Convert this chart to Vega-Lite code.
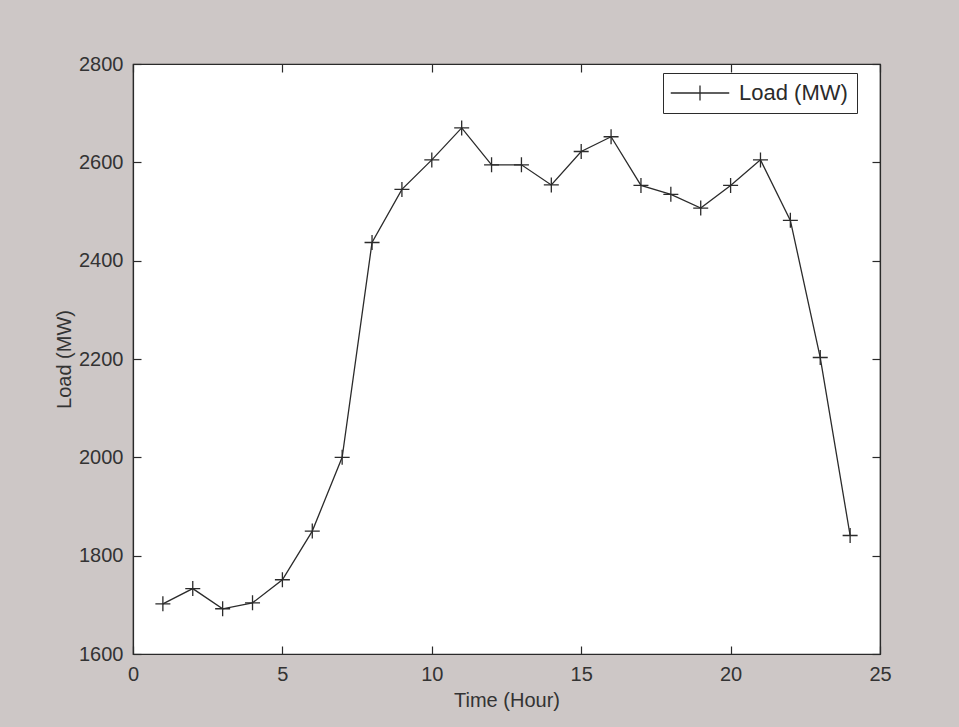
{
  "$schema": "https://vega.github.io/schema/vega-lite/v6.json",
  "width": 747,
  "height": 590,
  "autosize": {"type": "none"},
  "padding": {"left": 133, "top": 64, "right": 79, "bottom": 73},
  "background": "#cdc7c6",
  "config": {
    "font": "Liberation Sans",
    "view": {"fill": "white", "stroke": "#2a2a2a", "strokeWidth": 1.2},
    "axis": {
      "domainColor": "#2a2a2a",
      "domainWidth": 1.2,
      "tickColor": "#2a2a2a",
      "tickWidth": 1.2,
      "tickSize": -8,
      "grid": false,
      "format": "d",
      "labelFlush": false,
      "labelFont": "Liberation Sans",
      "labelFontSize": 20,
      "labelColor": "#333333",
      "titleFont": "Liberation Sans",
      "titleFontSize": 20,
      "titleFontWeight": "normal",
      "titleColor": "#333333"
    }
  },
  "data": {
    "values": [
      {"hour": 1, "load": 1702},
      {"hour": 2, "load": 1733},
      {"hour": 3, "load": 1692},
      {"hour": 4, "load": 1704},
      {"hour": 5, "load": 1751},
      {"hour": 6, "load": 1850},
      {"hour": 7, "load": 2000},
      {"hour": 8, "load": 2437},
      {"hour": 9, "load": 2545},
      {"hour": 10, "load": 2605},
      {"hour": 11, "load": 2670},
      {"hour": 12, "load": 2595},
      {"hour": 13, "load": 2595},
      {"hour": 14, "load": 2554},
      {"hour": 15, "load": 2622},
      {"hour": 16, "load": 2652},
      {"hour": 17, "load": 2553},
      {"hour": 18, "load": 2535},
      {"hour": 19, "load": 2507},
      {"hour": 20, "load": 2553},
      {"hour": 21, "load": 2605},
      {"hour": 22, "load": 2482},
      {"hour": 23, "load": 2203},
      {"hour": 24, "load": 1841}
    ]
  },
  "layer": [
    {
      "mark": {"type": "line", "interpolate": "linear", "strokeWidth": 1.3},
      "encoding": {
        "x": {
          "field": "hour", "type": "quantitative",
          "scale": {"domain": [0, 25], "nice": false, "zero": false},
          "axis": {"orient": "bottom", "values": [0, 5, 10, 15, 20, 25], "title": "Time (Hour)", "labelPadding": 18, "titlePadding": 6, "labelFlush": false}
        },
        "y": {
          "field": "load", "type": "quantitative",
          "scale": {"domain": [1600, 2800], "nice": false, "zero": false},
          "axis": {"orient": "left", "values": [1600, 1800, 2000, 2200, 2400, 2600, 2800], "title": "Load (MW)", "labelPadding": 18, "titlePadding": 4}
        },
        "color": {
          "datum": "Load (MW)", "type": "nominal",
          "scale": {"range": ["#2b2b2b"]},
          "legend": {
            "title": null,
            "orient": "none",
            "legendX": 530,
            "legendY": 9,
            "symbolType": "M-3.9,0H3.9M0,-1V1",
            "symbolSize": 225,
            "symbolStrokeWidth": 1.3,
            "symbolOffset": 17,
            "labelOffset": 28,
            "labelFont": "Liberation Sans",
            "labelFontSize": 22,
            "labelColor": "#2b2b2b",
            "padding": 9,
            "strokeColor": "#2b2b2b",
            "fillColor": "white"
          }
        }
      }
    },
    {
      "mark": {"type": "point", "shape": "M-1,0H1M0,-1V1", "size": 225, "filled": false, "strokeWidth": 1.3, "color": "#2b2b2b", "opacity": 1},
      "encoding": {
        "x": {
          "field": "hour", "type": "quantitative",
          "axis": {"orient": "top", "values": [0, 5, 10, 15, 20, 25], "labels": false, "title": null}
        },
        "y": {
          "field": "load", "type": "quantitative",
          "axis": {"orient": "right", "values": [1600, 1800, 2000, 2200, 2400, 2600, 2800], "labels": false, "title": null}
        }
      }
    }
  ],
  "resolve": {"axis": {"x": "independent", "y": "independent"}}
}
